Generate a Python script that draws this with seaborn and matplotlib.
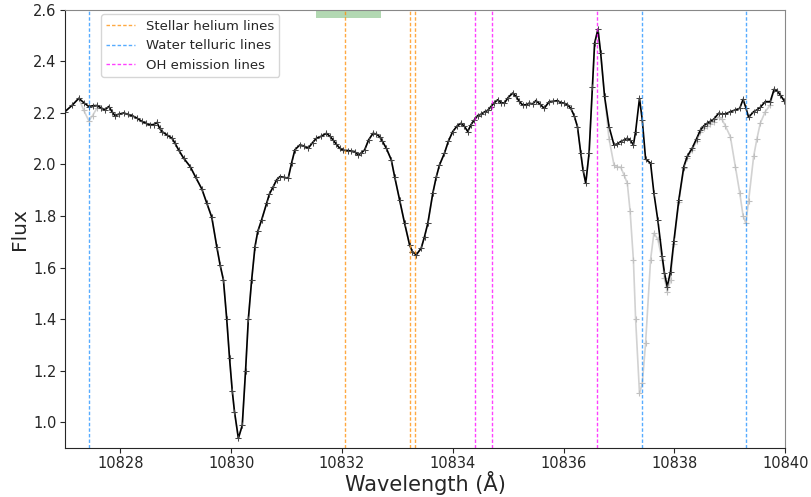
import matplotlib

matplotlib.use("Agg")
import matplotlib.pyplot as plt
import pandas as pd
import seaborn as sns

# wavelength grid (Angstrom)
wavelength = [
    10827.00, 10827.13, 10827.25, 10827.34, 10827.43, 10827.50, 10827.58, 10827.65,
    10827.72, 10827.79, 10827.85, 10827.90, 10827.97, 10828.06, 10828.13, 10828.21,
    10828.30, 10828.39, 10828.46, 10828.53, 10828.60, 10828.66, 10828.71, 10828.75,
    10828.84, 10828.93, 10828.98, 10829.05, 10829.14, 10829.26, 10829.36, 10829.47,
    10829.56, 10829.65, 10829.74, 10829.80, 10829.86, 10829.92, 10829.97, 10830.02,
    10830.06, 10830.13, 10830.20, 10830.26, 10830.31, 10830.37, 10830.43, 10830.48,
    10830.55, 10830.64, 10830.69, 10830.76, 10830.82, 10830.88, 10830.95, 10831.03,
    10831.09, 10831.15, 10831.24, 10831.31, 10831.39, 10831.47, 10831.54, 10831.63,
    10831.72, 10831.78, 10831.84, 10831.90, 10831.96, 10832.02, 10832.11, 10832.17,
    10832.23, 10832.29, 10832.35, 10832.41, 10832.48, 10832.56, 10832.62, 10832.68,
    10832.73, 10832.80, 10832.89, 10832.95, 10833.04, 10833.13, 10833.22, 10833.27,
    10833.34, 10833.43, 10833.49, 10833.55, 10833.64, 10833.70, 10833.76, 10833.85,
    10833.92, 10834.00, 10834.08, 10834.15, 10834.21, 10834.27, 10834.33, 10834.39,
    10834.45, 10834.51, 10834.58, 10834.63, 10834.69, 10834.75, 10834.81, 10834.87,
    10834.93, 10835.00, 10835.08, 10835.14, 10835.20, 10835.26, 10835.32, 10835.38,
    10835.44, 10835.50, 10835.57, 10835.65, 10835.74, 10835.81, 10835.89, 10835.95,
    10836.01, 10836.07, 10836.13, 10836.19, 10836.25, 10836.31, 10836.35, 10836.40,
    10836.46, 10836.52, 10836.56, 10836.62, 10836.67, 10836.74, 10836.82, 10836.91,
    10836.97, 10837.03, 10837.09, 10837.15, 10837.20, 10837.26, 10837.30, 10837.37,
    10837.42, 10837.48, 10837.57, 10837.63, 10837.70, 10837.78, 10837.82, 10837.87,
    10837.93, 10837.99, 10838.08, 10838.17, 10838.23, 10838.32, 10838.40, 10838.47,
    10838.53, 10838.59, 10838.65, 10838.71, 10838.80, 10838.86, 10838.92, 10839.01,
    10839.10, 10839.18, 10839.24, 10839.29, 10839.34, 10839.43, 10839.49, 10839.55,
    10839.64, 10839.73, 10839.80, 10839.86, 10839.91, 10839.98,
]

# telluric-corrected flux (black)
flux_corrected = [
    2.205, 2.230, 2.257, 2.240, 2.225, 2.228, 2.229, 2.220,
    2.212, 2.225, 2.205, 2.190, 2.195, 2.200, 2.195, 2.190,
    2.180, 2.167, 2.160, 2.154, 2.155, 2.163, 2.140, 2.128,
    2.115, 2.102, 2.085, 2.057, 2.025, 1.992, 1.950, 1.905,
    1.850, 1.795, 1.681, 1.610, 1.552, 1.400, 1.250, 1.120,
    1.040, 0.937, 0.987, 1.200, 1.400, 1.552, 1.681, 1.740,
    1.785, 1.850, 1.885, 1.914, 1.940, 1.953, 1.950, 1.947,
    2.005, 2.057, 2.076, 2.072, 2.063, 2.085, 2.102, 2.110,
    2.121, 2.110, 2.095, 2.078, 2.063, 2.055, 2.054, 2.052,
    2.050, 2.037, 2.045, 2.057, 2.095, 2.121, 2.118, 2.108,
    2.090, 2.063, 2.018, 1.953, 1.863, 1.772, 1.688, 1.662,
    1.649, 1.675, 1.720, 1.772, 1.889, 1.950, 1.998, 2.044,
    2.090, 2.128, 2.150, 2.160, 2.148, 2.128, 2.155, 2.173,
    2.190, 2.195, 2.205, 2.210, 2.225, 2.240, 2.251, 2.240,
    2.238, 2.260, 2.277, 2.265, 2.245, 2.231, 2.232, 2.238,
    2.235, 2.248, 2.235, 2.218, 2.244, 2.245, 2.248, 2.240,
    2.238, 2.232, 2.218, 2.190, 2.147, 2.044, 1.980, 1.927,
    2.044, 2.302, 2.471, 2.525, 2.432, 2.264, 2.147, 2.076,
    2.080, 2.089, 2.095, 2.102, 2.095, 2.076, 2.128, 2.257,
    2.173, 2.021, 2.005, 1.889, 1.785, 1.643, 1.580, 1.526,
    1.584, 1.701, 1.863, 1.992, 2.031, 2.063, 2.100, 2.134,
    2.150, 2.160, 2.168, 2.176, 2.199, 2.196, 2.196, 2.205,
    2.212, 2.218, 2.253, 2.220, 2.183, 2.205, 2.212, 2.222,
    2.244, 2.244, 2.292, 2.285, 2.270, 2.248,
]

# original flux before telluric correction (grey)
flux_original = [
    2.205, 2.230, 2.257, 2.210, 2.170, 2.190, 2.220, 2.220,
    2.212, 2.225, 2.205, 2.190, 2.195, 2.200, 2.195, 2.190,
    2.180, 2.167, 2.160, 2.154, 2.155, 2.163, 2.140, 2.128,
    2.115, 2.102, 2.085, 2.057, 2.025, 1.992, 1.950, 1.905,
    1.850, 1.795, 1.681, 1.610, 1.552, 1.400, 1.250, 1.120,
    1.040, 0.937, 0.987, 1.200, 1.400, 1.552, 1.681, 1.740,
    1.785, 1.850, 1.885, 1.914, 1.940, 1.953, 1.950, 1.947,
    2.005, 2.057, 2.076, 2.072, 2.063, 2.085, 2.102, 2.110,
    2.121, 2.110, 2.095, 2.078, 2.063, 2.055, 2.054, 2.052,
    2.050, 2.037, 2.045, 2.057, 2.095, 2.121, 2.118, 2.108,
    2.090, 2.063, 2.018, 1.953, 1.863, 1.772, 1.688, 1.662,
    1.649, 1.675, 1.720, 1.772, 1.889, 1.950, 1.998, 2.044,
    2.090, 2.128, 2.150, 2.160, 2.148, 2.128, 2.155, 2.173,
    2.190, 2.195, 2.205, 2.210, 2.225, 2.240, 2.251, 2.240,
    2.238, 2.260, 2.277, 2.265, 2.245, 2.231, 2.232, 2.238,
    2.235, 2.248, 2.235, 2.218, 2.244, 2.245, 2.248, 2.240,
    2.238, 2.232, 2.218, 2.190, 2.147, 2.044, 1.980, 1.927,
    2.044, 2.302, 2.471, 2.525, 2.432, 2.264, 2.100, 1.998,
    1.990, 1.990, 1.960, 1.927, 1.820, 1.630, 1.400, 1.112,
    1.150, 1.306, 1.630, 1.733, 1.710, 1.630, 1.560, 1.505,
    1.550, 1.690, 1.855, 1.985, 2.025, 2.055, 2.090, 2.125,
    2.140, 2.150, 2.158, 2.165, 2.185, 2.175, 2.150, 2.108,
    1.992, 1.889, 1.800, 1.772, 1.860, 2.031, 2.100, 2.160,
    2.205, 2.231, 2.292, 2.285, 2.270, 2.248,
]

helium_lines = [10832.06, 10833.22, 10833.31]
water_lines = [10827.43, 10837.41, 10839.29]
oh_lines = [10834.40, 10834.71, 10836.60]
band_start, band_end = 10831.54, 10832.71

spectrum = pd.DataFrame(
    {
        "wavelength": wavelength,
        "corrected": flux_corrected,
        "original": flux_original,
    }
)

sns.set_style("ticks")
plt.rcParams["font.family"] = ["DejaVu Sans"]

fig = plt.figure(figsize=(8.12, 4.97), dpi=100)
ax = fig.add_axes([0.080, 0.099, 0.887, 0.881])

sns.lineplot(
    data=spectrum, x="wavelength", y="original", sort=False, ax=ax,
    color="#d2d2d2", linewidth=1.2, marker="+", markersize=4,
    markeredgewidth=0.8, markeredgecolor="#c0c0c0",
)
sns.lineplot(
    data=spectrum, x="wavelength", y="corrected", sort=False, ax=ax,
    color="black", linewidth=1.2, marker="+", markersize=4,
    markeredgewidth=0.7, markeredgecolor="#444444",
)

line_style = dict(linestyle=(0, (2.5, 1.5)), linewidth=1.0, alpha=0.75)
for i, w in enumerate(helium_lines):
    ax.axvline(w, color="darkorange", label="Stellar helium lines" if i == 0 else None,
               **line_style)
for i, w in enumerate(water_lines):
    ax.axvline(w, color="dodgerblue", label="Water telluric lines" if i == 0 else None,
               **line_style)
for i, w in enumerate(oh_lines):
    ax.axvline(w, color="magenta", label="OH emission lines" if i == 0 else None,
               **line_style)

ax.axvspan(band_start, band_end, ymin=0.982, ymax=1.0, color="green", alpha=0.3, lw=0)

ax.set_xlim(10827, 10840)
ax.set_ylim(0.9, 2.6)
ax.set_xticks([10828, 10830, 10832, 10834, 10836, 10838, 10840])
ax.set_yticks([1.0, 1.2, 1.4, 1.6, 1.8, 2.0, 2.2, 2.4, 2.6])
ax.ticklabel_format(axis="x", useOffset=False, style="plain")
ax.tick_params(labelsize=10.5, pad=2.5)
ax.set_xlabel("Wavelength (Å)", fontsize=15, labelpad=0)
ax.set_ylabel("Flux", fontsize=14.5, labelpad=3)
for side in ("top", "right"):
    ax.spines[side].set_color("#888888")

handles, labels = ax.get_legend_handles_labels()
keep = [i for i, lab in enumerate(labels) if lab.endswith("lines")]
ax.legend(
    [handles[i] for i in keep], [labels[i] for i in keep],
    loc="upper left", bbox_to_anchor=(0.05, 0.99), borderaxespad=0,
    fontsize=9.5, frameon=True, handlelength=2.2,
)

fig.savefig("out.png", dpi=100)
